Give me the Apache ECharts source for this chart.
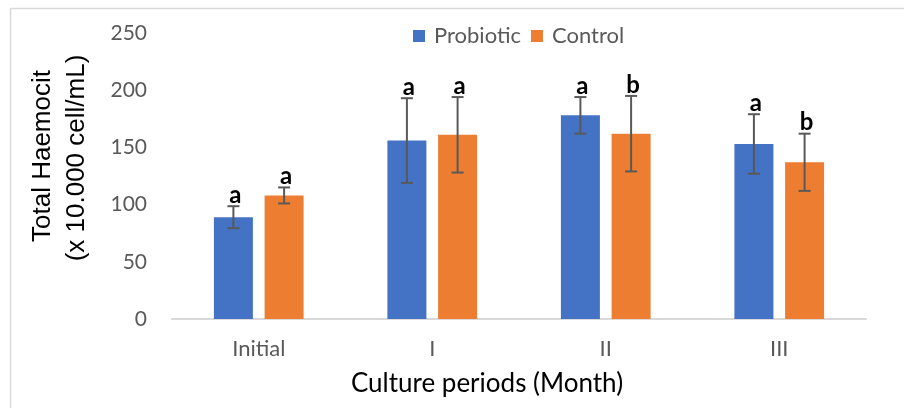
<!DOCTYPE html>
<html>
<head>
<meta charset="utf-8">
<script src="https://cdn.jsdelivr.net/npm/echarts@6/dist/echarts.min.js"></script>
<style>html,body{margin:0;padding:0;background:#fff}#c{width:904px;height:408px}</style>
</head>
<body>
<div id="c"></div>
<script>
var categories = ['Initial', 'I', 'II', 'III'];
var seriesNames = ['Probiotic', 'Control'];
var probiotic = [89, 156, 178, 153];
var control = [108, 161, 162, 137];
var probioticErr = [9.6, 37, 16, 26];
var controlErr = [7, 33, 33, 25];
var probioticLetters = ['a', 'a', 'a', 'a'];
var controlLetters = ['a', 'a', 'b', 'b'];
var yTicks = [0, 50, 100, 150, 200, 250];

var BAR_W = 39, GAP_RATIO = 0.3;
var OFFSET = (BAR_W + BAR_W * GAP_RATIO) / 2;

function errData(vals, errs, letters, side) {
  return vals.map(function (v, i) { return [i, v, errs[i], letters[i], side]; });
}

function renderErr(params, api) {
  var i = api.value(0), v = api.value(1), e = api.value(2), side = api.value(4);
  var letter = side < 0 ? probioticLetters[i] : controlLetters[i];
  var c = api.coord([i, v]);
  var x = c[0] + side * OFFSET;
  var top = api.coord([i, v + e])[1];
  var bot = api.coord([i, v - e])[1];
  var st = { stroke: '#595959', lineWidth: 2 };
  return {
    type: 'group',
    children: [
      { type: 'line', shape: { x1: x, y1: top, x2: x, y2: bot }, style: st },
      { type: 'line', shape: { x1: x - 6, y1: top, x2: x + 6, y2: top }, style: st },
      { type: 'line', shape: { x1: x - 6, y1: bot, x2: x + 6, y2: bot }, style: st },
      { type: 'text', style: { text: letter, x: x + 2, y: top + 1, align: 'center', verticalAlign: 'bottom',
        font: 'bold 24px Lato', fill: '#000' } }
    ]
  };
}

var chart = echarts.init(document.getElementById('c'));
chart.setOption({
  animation: false,
  backgroundColor: '#fff',
  grid: { left: 172, right: 38, top: 33, bottom: 89 },
  legend: {
    left: 408, top: 20, itemWidth: 12, itemHeight: 12, itemGap: 10,
    icon: 'rect',
    textStyle: { fontFamily: 'Lato', fontSize: 22, color: '#595959', padding: [0, 0, 0, 4] },
    data: seriesNames
  },
  xAxis: {
    type: 'category', data: categories,
    axisLine: { lineStyle: { color: '#d9d9d9', width: 2 } },
    axisTick: { show: false },
    axisLabel: { fontFamily: 'Lato', fontSize: 22, color: '#595959', margin: 19 }
  },
  yAxis: {
    type: 'value', min: yTicks[0], max: yTicks[yTicks.length - 1], interval: 50,
    splitLine: { show: false }, axisLine: { show: false }, axisTick: { show: false },
    axisLabel: { fontFamily: 'Lato', fontSize: 21, color: '#595959', margin: 25 }
  },
  series: [
    { name: seriesNames[0], type: 'bar', data: probiotic, barWidth: BAR_W, barGap: (GAP_RATIO * 100) + '%',
      itemStyle: { color: '#4472C4' } },
    { name: seriesNames[1], type: 'bar', data: control, barWidth: BAR_W, barGap: (GAP_RATIO * 100) + '%',
      itemStyle: { color: '#ED7D31' } },
    { type: 'custom', renderItem: renderErr, data: errData(probiotic, probioticErr, probioticLetters, -1),
      encode: { x: 0, y: 1 }, z: 5, silent: true },
    { type: 'custom', renderItem: renderErr, data: errData(control, controlErr, controlLetters, 1),
      encode: { x: 0, y: 1 }, z: 5, silent: true }
  ],
  graphic: [
    { type: 'rect', left: 8, top: 6, shape: { x: 0, y: 0, width: 1000, height: 1000 },
      style: { fill: 'none', stroke: '#d9d9d9', lineWidth: 1.5 }, z: -1, silent: true },
    { type: 'text', x: 43, y: 156, rotation: Math.PI / 2,
      style: { text: 'Total Haemocit', font: '26px "Liberation Sans"', fill: '#000', align: 'center', verticalAlign: 'middle' } },
    { type: 'text', x: 77, y: 158, rotation: Math.PI / 2,
      style: { text: '(x 10.000 cell/mL)', font: '26px "Liberation Sans"', fill: '#000', align: 'center', verticalAlign: 'middle' } },
    { type: 'text', x: 487, y: 384,
      style: { text: 'Culture periods (Month)', font: '26px Lato', fill: '#000', align: 'center', verticalAlign: 'middle' } }
  ]
});
</script>
</body>
</html>
